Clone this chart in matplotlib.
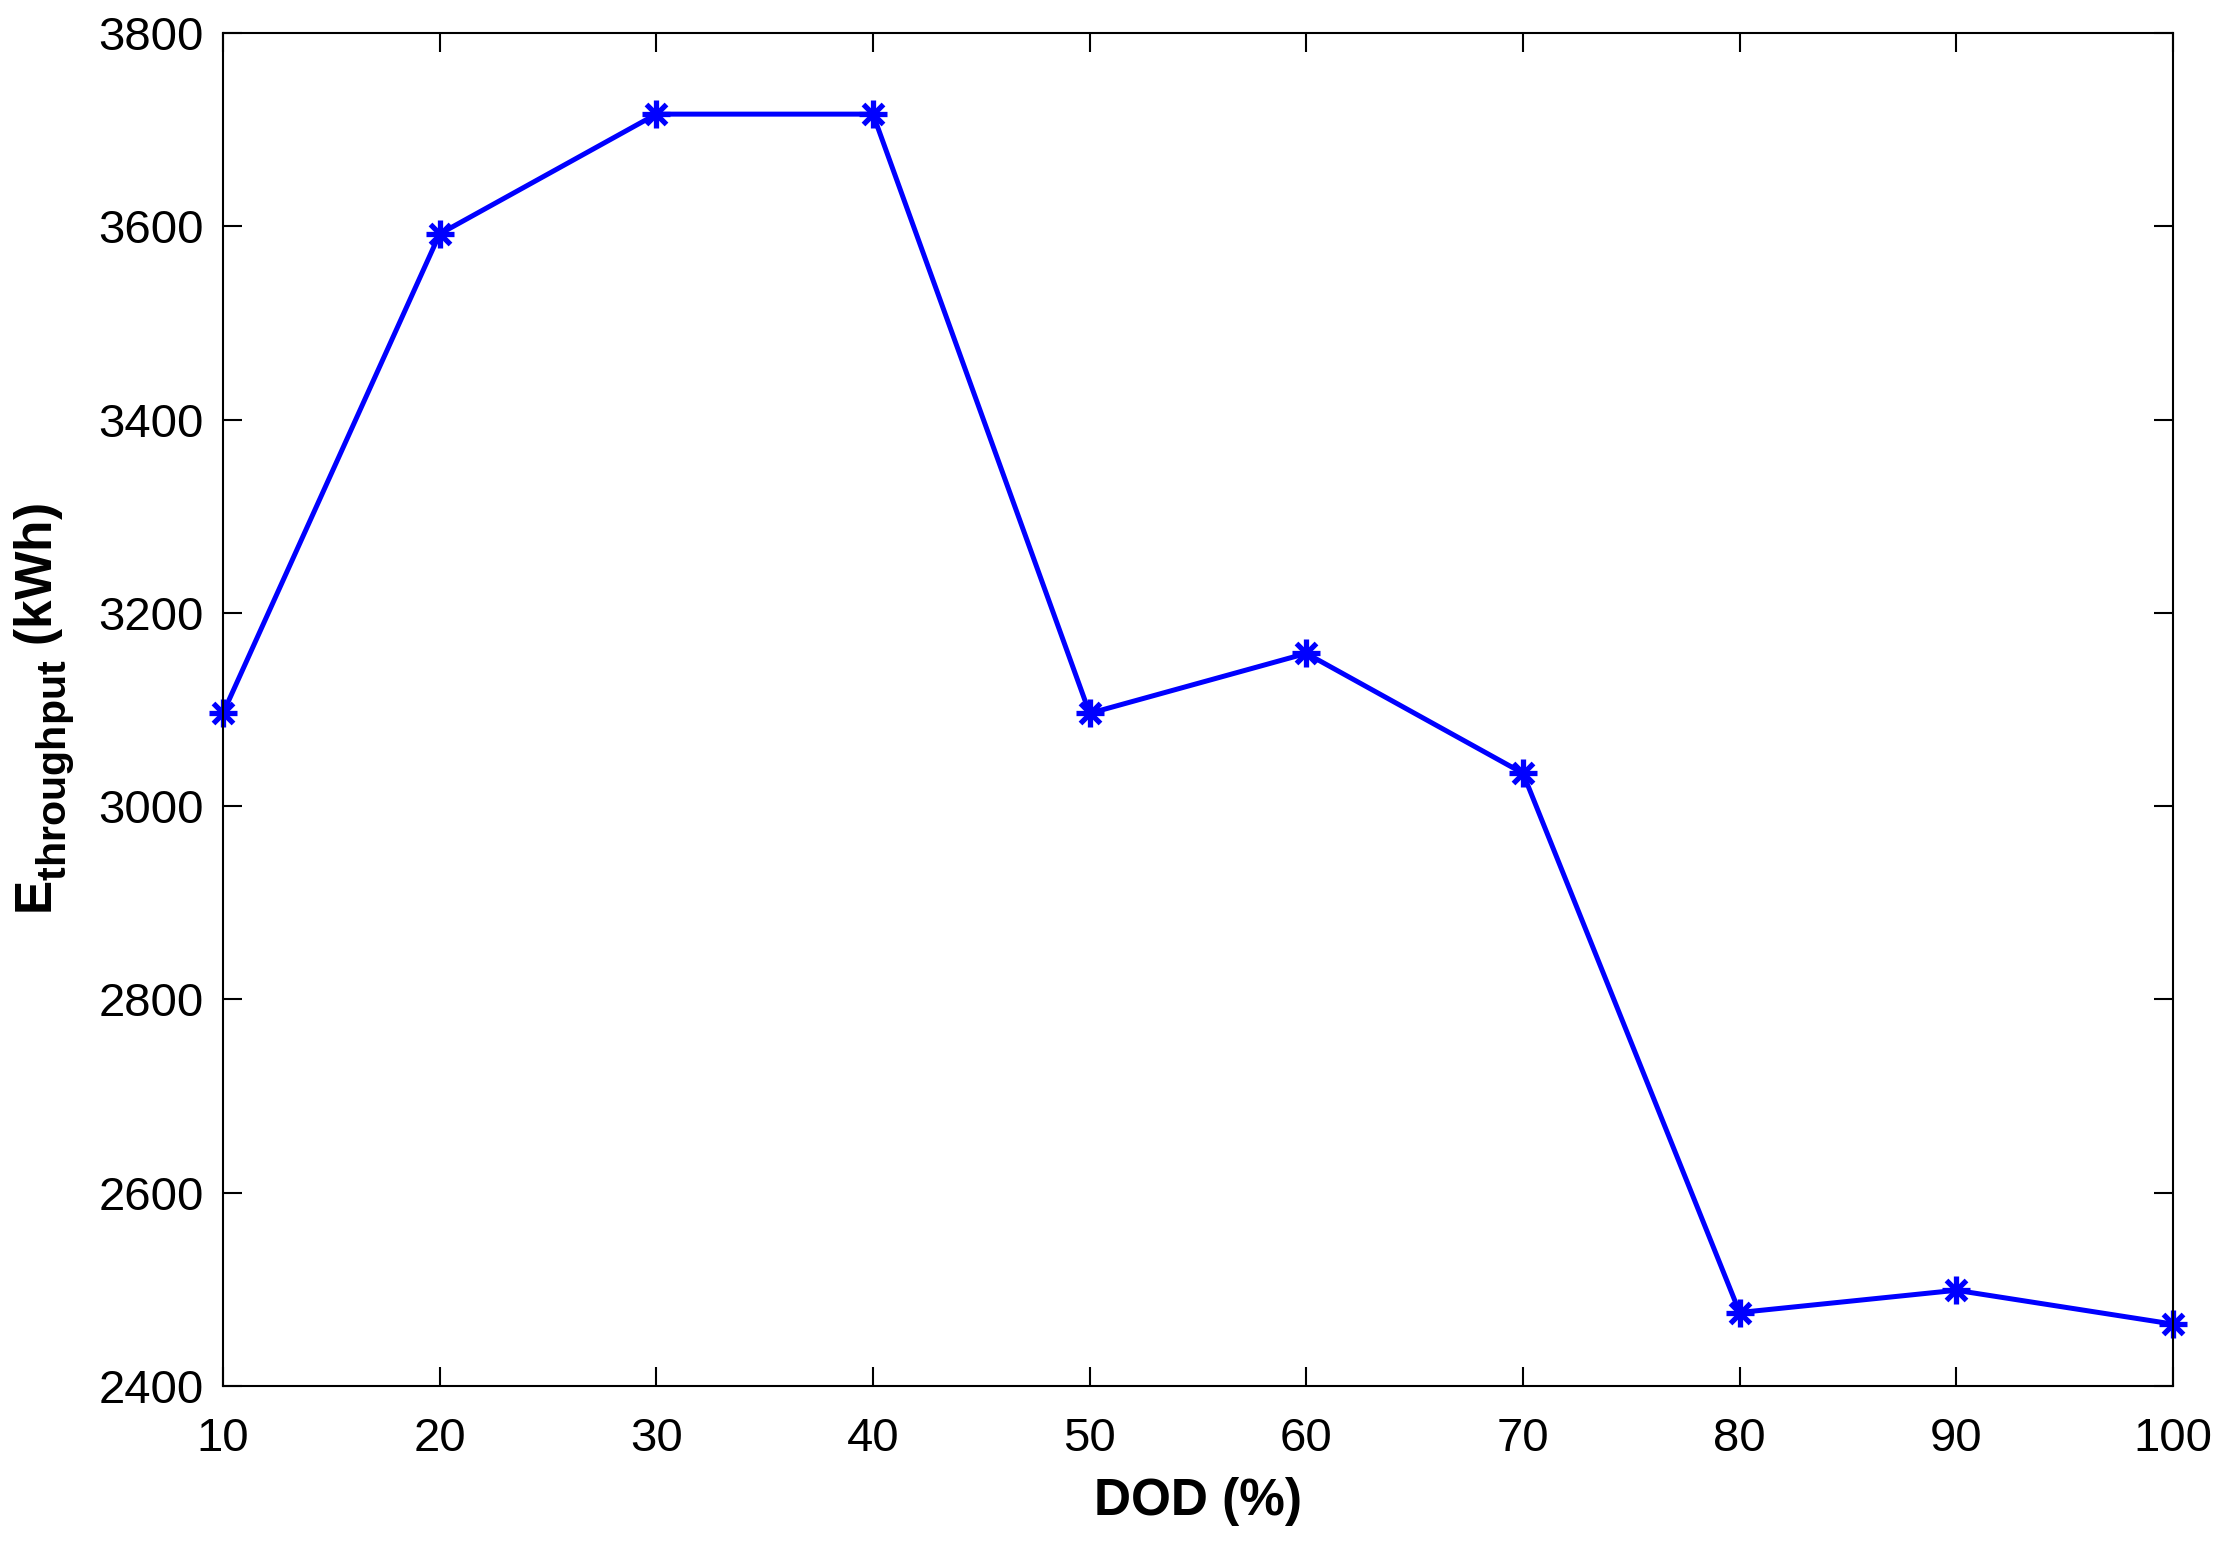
import matplotlib
matplotlib.use('Agg')
import matplotlib.pyplot as plt
import matplotlib._mathtext as mt

plt.rcParams['font.family'] = ['Liberation Sans', 'DejaVu Sans']
plt.rcParams['mathtext.fontset'] = 'custom'
plt.rcParams['mathtext.rm'] = 'Liberation Sans'
plt.rcParams['mathtext.bf'] = 'Liberation Sans:bold'
# subindice un poco mas grande y mas bajo, como en el original
mt.SHRINK_FACTOR = 0.8
mt.FontConstantsBase.sub1 = 0.5

# datos
dod = [10, 20, 30, 40, 50, 60, 70, 80, 90, 100]
energia = [3096, 3592, 3716, 3716, 3096, 3158, 3034, 2476, 2499, 2464]

fig = plt.figure(figsize=(22.23, 15.47), dpi=100)
ax = fig.add_axes([0.1003, 0.1041, 0.8772, 0.8746])

# linea con asterisco estilo matlab (+ y x superpuestos)
ax.plot(dod, energia, color='#0000ff', linewidth=3.6, marker='+',
        markersize=20, markeredgewidth=3.8, clip_on=False)
ax.plot(dod, energia, color='#0000ff', linestyle='none', marker='x',
        markersize=14, markeredgewidth=3.8, clip_on=False)

ax.set_xlim(10, 100)
ax.set_ylim(2400, 3800)
ax.set_xticks(range(10, 101, 10))
ax.set_yticks(range(2400, 3801, 200))

for s in ax.spines.values():
    s.set_linewidth(1.5)
ax.tick_params(direction='in', length=14, width=1.5, top=True, right=True,
               labelsize=34)
ax.tick_params(axis='x', pad=22)
ax.tick_params(axis='y', pad=14)

ax.set_xlabel('DOD (%)', fontsize=37, fontweight='bold', labelpad=12)
ax.set_ylabel(r'$\mathbf{E}_{\mathbf{throughput}}$ (kWh)', fontsize=37,
              fontweight='bold', labelpad=16)

fig.savefig('out.png', dpi=100)
